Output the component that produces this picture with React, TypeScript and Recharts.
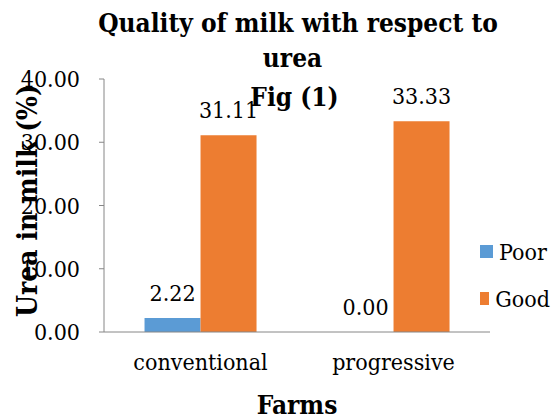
import { Bar, BarChart, Legend, XAxis, YAxis } from "recharts";

const farms = ["conventional", "progressive"];
const poor = [2.22, 0.0];
const good = [31.11, 33.33];
const yTicks = [0, 10, 20, 30, 40];
const seriesOrder = ["Poor", "Good"];

const data = farms.map((farm, i) => ({ farm, poor: poor[i], good: good[i] }));

const serif = "'DejaVu Serif Condensed', 'DejaVu Serif', serif";
const axisGrey = "#868686";

const titleStyle: React.CSSProperties = {
  position: "absolute",
  left: 0,
  width: 596,
  textAlign: "center",
  fontFamily: serif,
  fontWeight: "bold",
  fontSize: 26,
  lineHeight: 1,
  color: "#000",
  pointerEvents: "none",
  whiteSpace: "nowrap",
};

function LegendBox({ payload }: { payload?: any[] }) {
  const items = [...(payload ?? [])].sort(
    (a, b) => seriesOrder.indexOf(a.value) - seriesOrder.indexOf(b.value),
  );
  return (
    <div style={{ fontFamily: serif, fontSize: 23, color: "#000", whiteSpace: "nowrap" }}>
      {items.map((p) => (
        <div key={p.value} style={{ display: "flex", alignItems: "center", height: 47 }}>
          <span style={{ width: 13, height: 13, background: p.color, marginRight: 6 }} />
          <span>{p.value}</span>
        </div>
      ))}
    </div>
  );
}

function valueLabel(props: any) {
  const { x, y, width, height, value } = props;
  const top = Math.min(Number(y), Number(y) + Number(height));
  return (
    <text
      x={Number(x) + Number(width) / 2}
      y={top - 17}
      textAnchor="middle"
      fill="#000"
      fontFamily={serif}
      fontSize={23}
    >
      {Number(value).toFixed(2)}
    </text>
  );
}

function yTitle(props: any) {
  const vb = props.viewBox ?? {};
  const cx = 37;
  const cy = Number(vb.y) + Number(vb.height) / 2 - 5;
  return (
    <text
      x={cx}
      y={cy}
      transform={`rotate(-90, ${cx}, ${cy})`}
      textAnchor="middle"
      fill="#000"
      fontFamily={serif}
      fontWeight="bold"
      fontSize={28}
    >
      Urea in milk (%)
    </text>
  );
}

// zero bars still need an entry so their value label gets drawn
const keepZero = (value: any) => (Number(value) === 0 ? 0.01 : 0);

export default function App() {
  return (
    <div style={{ position: "absolute", left: 0, top: 0, width: 560, height: 419, background: "#fff" }}>
      <BarChart
        width={560}
        height={419}
        data={data}
        margin={{ top: 79, right: 0, bottom: 0, left: 0 }}
        barCategoryGap="21%"
        barGap={0}
      >
        <XAxis
          xAxisId="edge"
          type="number"
          domain={[0, 2]}
          ticks={[0, 1, 2]}
          height={0}
          axisLine={false}
          tick={false}
          tickSize={8}
          tickLine={{ stroke: axisGrey }}
        />
        <XAxis
          dataKey="farm"
          height={87}
          axisLine={{ stroke: axisGrey }}
          tickLine={false}
          tickMargin={16}
          tick={{ fill: "#000", fontFamily: serif, fontSize: 23 }}
          label={{
            value: "Farms",
            position: "insideBottom",
            offset: 5,
            fill: "#000",
            fontFamily: serif,
            fontWeight: "bold",
            fontSize: 26,
          }}
        />
        <YAxis
          width={104}
          domain={[0, 40]}
          ticks={yTicks}
          interval={0}
          tickFormatter={(v: number) => v.toFixed(2)}
          axisLine={{ stroke: axisGrey }}
          tickLine={{ stroke: axisGrey }}
          tickSize={5}
          tickMargin={19}
          tick={{ fill: "#000", fontFamily: serif, fontSize: 23 }}
          label={{ content: yTitle }}
        />
        <Legend
          layout="vertical"
          align="right"
          verticalAlign="top"
          wrapperStyle={{ left: 480, top: 228, width: 70 }}
          content={<LegendBox />}
        />
        <Bar
          dataKey="poor"
          name="Poor"
          fill="#5B9BD5"
          minPointSize={keepZero}
          isAnimationActive={false}
          label={valueLabel}
        />
        <Bar dataKey="good" name="Good" fill="#ED7D31" isAnimationActive={false} label={valueLabel} />
      </BarChart>
      <div style={{ ...titleStyle, top: 10 }}>Quality of milk with respect to</div>
      <div style={{ ...titleStyle, top: 45, width: 585 }}>urea</div>
      <div style={{ ...titleStyle, top: 84, width: 589 }}>Fig (1)</div>
    </div>
  );
}
